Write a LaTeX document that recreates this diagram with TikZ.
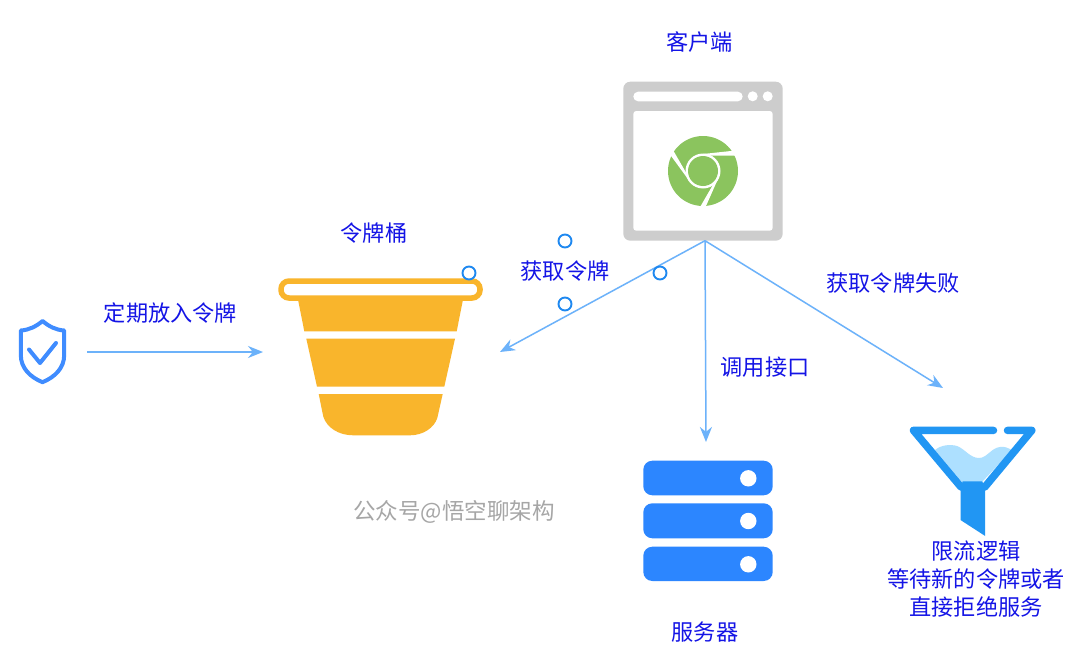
\documentclass[tikz,border=0pt]{standalone}
\usepackage{fontspec}
\newfontfamily\cjk{Noto Sans CJK SC}
\usetikzlibrary{arrows.meta}
\definecolor{labelblue}{HTML}{1414E6}
\definecolor{flowblue}{HTML}{6CB2FA}
\definecolor{handleblue}{HTML}{1E88F0}
\definecolor{frame}{HTML}{CDCDCD}
\definecolor{chromegreen}{HTML}{8BC45E}
\definecolor{bucket}{HTML}{F9B52C}
\definecolor{server}{HTML}{2C86FF}
\definecolor{funnel}{HTML}{2196F3}
\definecolor{water}{HTML}{ADE0FF}
\definecolor{shield}{HTML}{3F8CFF}
\tikzset{
  lbl/.style={text=labelblue,inner sep=0pt,align=center,font=\cjk\fontsize{22.2}{28}\selectfont},
  graylbl/.style={text=gray!70,inner sep=0pt,font=\cjk\fontsize{22.5}{28}\selectfont},
  flow/.style={draw=flowblue,line width=1.5pt,-{Stealth[length=15pt,width=12pt]}},
  handle/.style={circle,draw=handleblue,fill=white,line width=1.9pt,minimum size=13pt,inner sep=0pt},
  area/.style={inner sep=0pt,outer sep=0pt,minimum height=#1},
  area/.default=10pt,
  rack/.style={fill=server,rounded corners=9pt},
}
\begin{document}
\begin{tikzpicture}[x=1pt,y=-1pt]
\useasboundingbox (0,0) rectangle (1080,664);
\fill[white] (0,0) rectangle (1080,664);

% browser window
\node[fill=frame,rounded corners=7pt,inner sep=0pt,outer sep=0pt,minimum width=159.4pt,minimum height=159pt] (browser) at (703,161.2) {};
\fill[white,rounded corners=3pt] (633.3,111) rectangle (772.7,230.7);
\fill[white,rounded corners=4.8pt] (633.3,91.7) rectangle (742.7,101.3);
\fill[white] (752.7,96.3) circle (5);
\fill[white] (767.7,96.3) circle (5);
\coordinate (browserout) at ([xshift=2pt]browser.south);

% browser logo
\begin{scope}[shift={(703,171)}]
  \fill[chromegreen] (0,0) circle (35);
  \foreach \a in {0,120,240}{
    \fill[white,rotate=\a] (0,-15.5) -- (40,-15.5) -- (40,-21.3) -- (0,-17) -- cycle;
  }
  \fill[white] (0,0) circle (17.5);
  \fill[chromegreen] (0,0) circle (15);
\end{scope}

% token bucket
\node[area=60pt,minimum width=237pt] (bucketzone) at (381.5,352) {};
\fill[bucket] (297.7,298) -- (304.3,331.3) -- (456.7,331.3) -- (463.3,298) -- cycle;
\fill[bucket] (306.3,338.7) -- (455,338.7) -- (444.3,386.7) -- (317,386.7) -- cycle;
\fill[bucket] (318.7,394) -- (442.7,394) -- (437.3,418)
  .. controls (434,428) and (423,435.3) .. (410,435.3) -- (353.3,435.3)
  .. controls (339,435.3) and (327,428) .. (323.3,416.7) -- cycle;
\draw[bucket,fill=white,line width=5.5pt,rounded corners=8pt] (281,281) rectangle (480,298);

% shield
\node[area=60pt,minimum width=87pt] (shieldzone) at (43.5,352) {};
\draw[shield,line width=4pt,line join=round]
  (42.6,321) .. controls (36,326.5) and (29,330) .. (20.8,330.5)
  -- (20.8,355) .. controls (20.8,368) and (30,377) .. (42.5,382.2)
  .. controls (55,377) and (64.2,368) .. (64.2,355)
  -- (64.2,330.5) .. controls (56,330) and (49,326.5) .. (42.6,321) -- cycle;
\draw[shield,line width=4pt,line cap=round,line join=round] (29,349.5) -- (40,363) -- (56,343);

% server rack
\node[area=20pt,minimum width=129.4pt] (rackzone) at (706,452) {};
\fill[rack] (643.3,460.7) rectangle (772.7,495.3);
\fill[rack] (643.3,503.3) rectangle (772.7,538.3);
\fill[rack] (643.3,546.7) rectangle (772.7,581);
\fill[white] (748.3,478.3) circle (8.2);
\fill[white] (748.3,521) circle (8.2);
\fill[white] (748.3,564.3) circle (8.2);

% funnel
\fill[water] (935,450) .. controls (941,445) and (950,444) .. (957,446)
  .. controls (965,449) and (970,458) .. (979,458)
  .. controls (987,458) and (991,448) .. (1000,447)
  .. controls (1004,446) and (1008,448) .. (1012,450)
  -- (982,482) -- (962,482) -- cycle;
\draw[funnel,line width=7.5pt,line cap=round,line join=round]
  (993.5,430.4) -- (913.5,430.4) -- (961,487);
\draw[funnel,line width=7.5pt,line cap=round,line join=round]
  (1007.5,430.4) -- (1031.8,430.4) -- (984.8,487);
\fill[funnel] (962.7,481.3) -- (982.2,481.3) -- (985.2,488) -- (985.2,536) -- (960.5,520) -- (960.5,488) -- cycle;
\coordinate (funnelin) at (943,388);

% token bucket connectors
\draw[flow] (shieldzone.east) -- (bucketzone.west);
\draw[flow] (browserout) -- (bucketzone.east);
\draw[flow] (browserout) -- (rackzone.north);
\draw[flow] (browserout) -- (funnelin);

% selection handles on the left-hand connector
\node[handle] (h1) at (565,241) {};
\node[handle] (h2) at (660,273) {};
\node[handle] (h3) at (565,304) {};
\node[handle] (h4) at (469,273) {};

% labels
\node[lbl] (tclient) at (699.5,42) {客户端};
\node[lbl] (tbucket) at (374,233) {令牌桶};
\node[lbl] (tput) at (170.5,313) {定期放入令牌};
\node[lbl] (tget) at (565,271) {获取令牌};
\node[lbl] (tfail) at (893,283) {获取令牌失败};
\node[lbl] (tcall) at (765,367) {调用接口};
\node[lbl] (tserver) at (705,632) {服务器};
\node[lbl] (tlimit) at (976,579) {限流逻辑\\等待新的令牌或者\\直接拒绝服务};
\node[graylbl] (tmark) at (454,512) {公众号@悟空聊架构};
\end{tikzpicture}
\end{document}
